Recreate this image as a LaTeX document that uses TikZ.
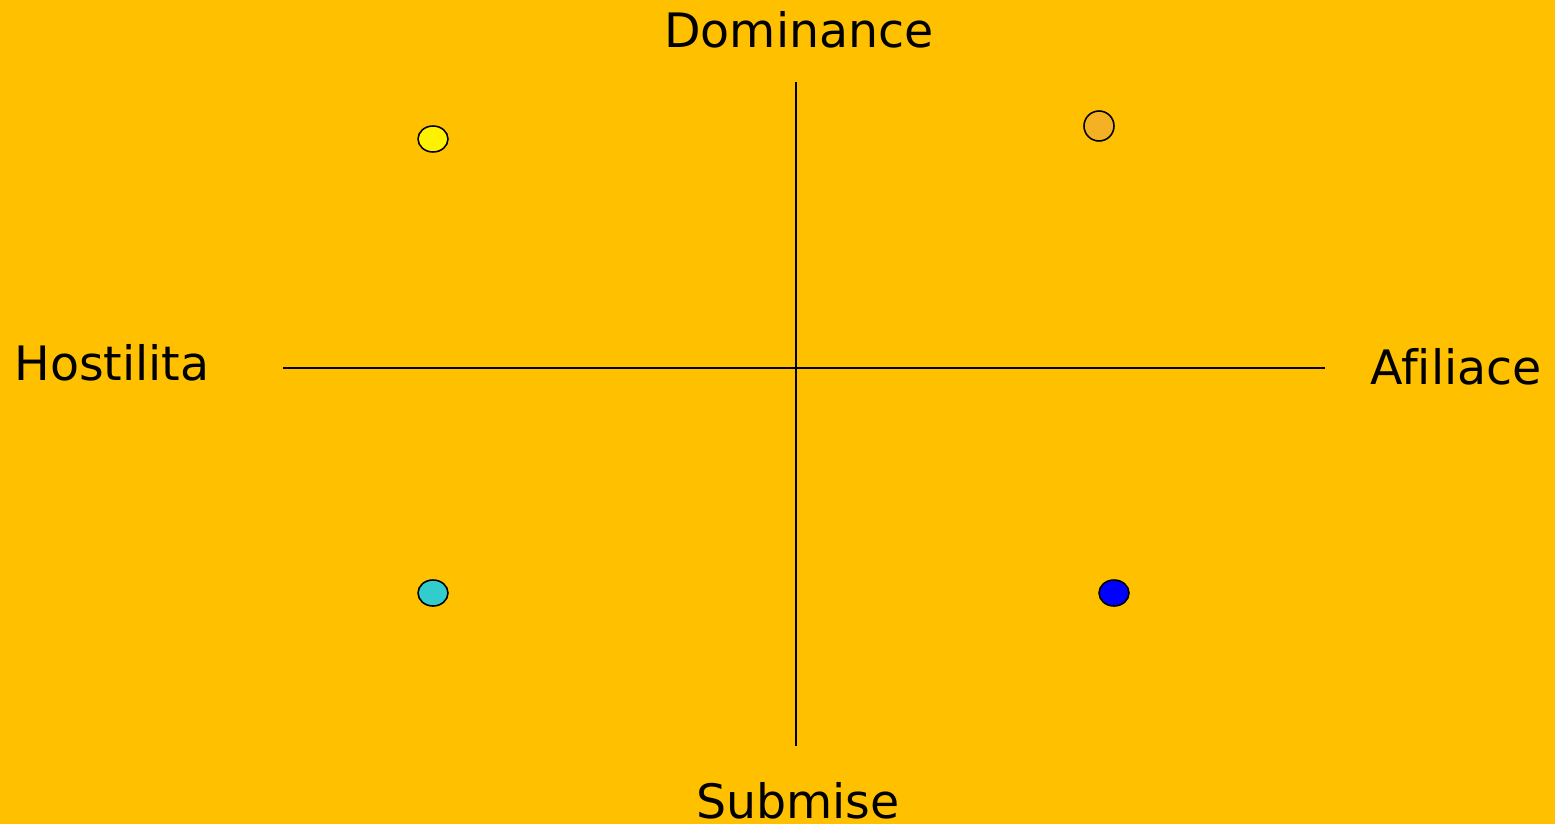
\documentclass[tikz,border=0pt]{standalone}
\usepackage{fontspec}
\setmainfont{DejaVu Sans}[Ligatures=NoCommon]
\usepackage{xcolor}
\usetikzlibrary{shapes.geometric}
\definecolor{bgamber}{HTML}{FFC000}
\definecolor{dotorange}{HTML}{F4B124}
\definecolor{dotcyan}{HTML}{33CCCC}
\tikzset{
  axislabel/.style={font=\fontsize{27}{32}\selectfont,anchor=base},
  dot/.style={ellipse,draw=black,line width=0.9pt,inner sep=0pt,minimum width=0.6cm,minimum height=0.52cm}
}
\begin{document}
\begin{tikzpicture}[x=0.02cm,y=-0.02cm,line join=round]
  \fill[bgamber] (0,0) rectangle (1555,824);
  \useasboundingbox (0,0) rectangle (1555,824);
  % axes
  \coordinate (N) at (796,82);
  \coordinate (S) at (796,746);
  \coordinate (W) at (283,368);
  \coordinate (E) at (1325,368);
  \draw[line width=0.9pt] (N) -- (S);
  \draw[line width=0.9pt] (W) -- (E);
  % labels
  \node[axislabel] (dom) at (799,48) {Dominance};
  \node[axislabel] (sub) at (798,818) {Submise};
  \node[axislabel] (host) at (112,380) {Hostilita};
  \node[axislabel] (afil) at (1456,384) {Afiliace};
  % dots
  \node[dot,fill=yellow] (yel) at (433,139) {};
  \node[dot,fill=dotorange,minimum width=0.6cm,minimum height=0.6cm] (ora) at (1099,126) {};
  \node[dot,fill=dotcyan] (cya) at (433,593) {};
  \node[dot,fill=blue] (blu) at (1114,593) {};
\end{tikzpicture}
\end{document}
